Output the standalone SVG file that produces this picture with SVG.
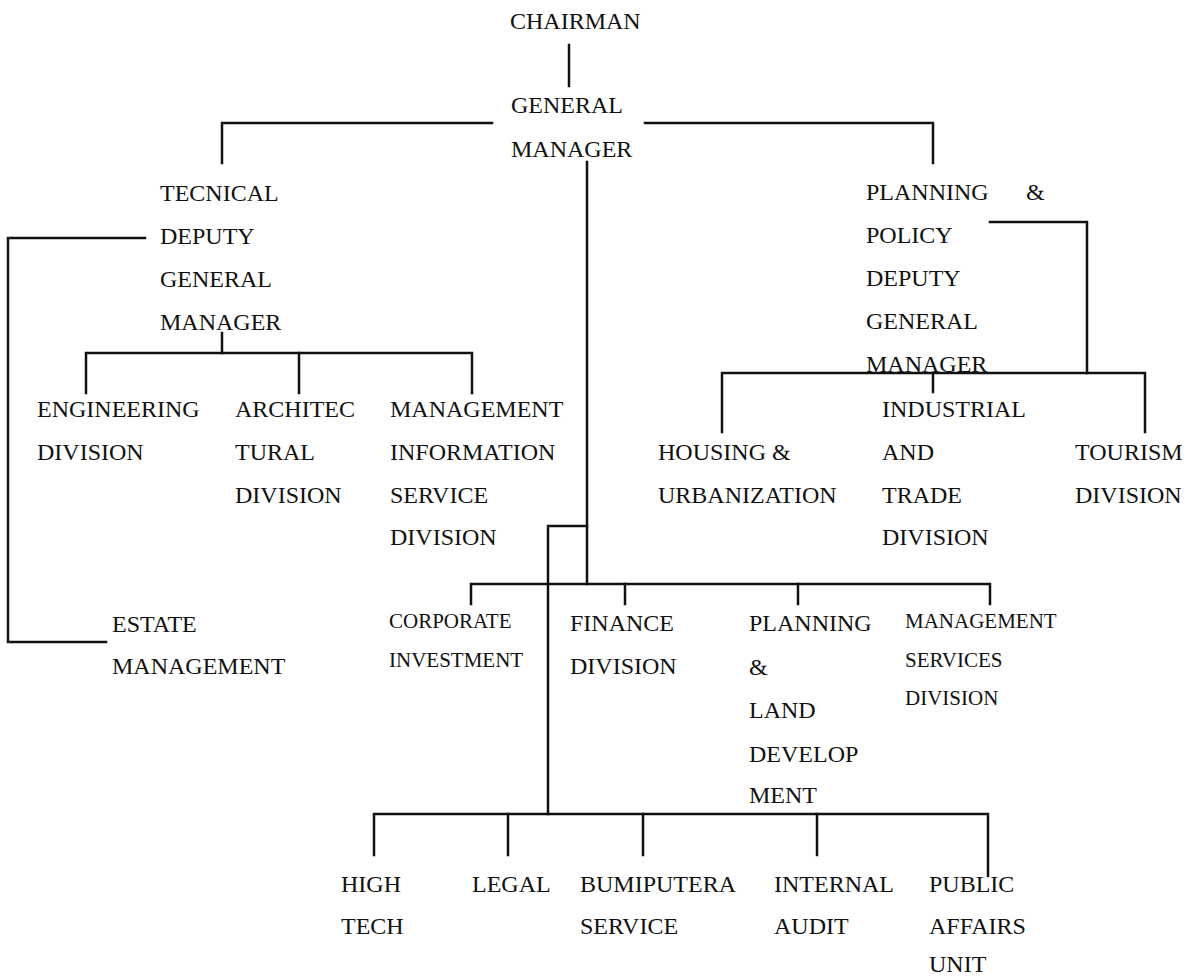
<svg xmlns="http://www.w3.org/2000/svg" width="1193" height="979" viewBox="0 0 1193 979">
<style>
  text { font-family: "Liberation Serif", "Times New Roman", serif; font-size: 24px; fill: #111; }
  text.sm { font-size: 21px; }
  .conn path { fill: none; stroke: #111; stroke-width: 2.5; stroke-linecap: square; }
</style>
<rect width="1193" height="979" fill="#fff"/>
<g class="conn" id="connectors">
  <path d="M569 45 V86"/>
  <path d="M492 123 H222 V163"/>
  <path d="M645 123 H933 V163"/>
  <path d="M587 162 V584"/>
  <path d="M145 238 H8 V642 H106"/>
  <path d="M222 333 V353"/>
  <path d="M86 393 V353 H472 V393"/>
  <path d="M299 353 V393"/>
  <path d="M990 222 H1087 V373"/>
  <path d="M722 432 V373 H1145 V432"/>
  <path d="M933 373 V392"/>
  <path d="M587 526 H548 V814"/>
  <path d="M471 604 V584 H990 V604"/>
  <path d="M625 584 V604"/>
  <path d="M798 584 V604"/>
  <path d="M374 855 V814 H988 V876"/>
  <path d="M508 814 V855"/>
  <path d="M643 814 V855"/>
  <path d="M817 814 V855"/>
</g>
<g id="chairman"><text x="510" y="29">CHAIRMAN</text></g>
<g id="general-manager"><text x="511" y="113">GENERAL</text><text x="511" y="157">MANAGER</text></g>
<g id="technical-dgm">
  <text x="160" y="201">TECNICAL</text><text x="160" y="244">DEPUTY</text>
  <text x="160" y="287">GENERAL</text><text x="160" y="330">MANAGER</text>
</g>
<g id="planning-policy-dgm">
  <text x="866" y="200">PLANNING</text><text x="1026" y="200">&amp;</text>
  <text x="866" y="243">POLICY</text><text x="866" y="286">DEPUTY</text>
  <text x="866" y="329">GENERAL</text><text x="866" y="372">MANAGER</text>
</g>
<g id="engineering"><text x="37" y="417">ENGINEERING</text><text x="37" y="460">DIVISION</text></g>
<g id="architectural"><text x="235" y="417">ARCHITEC</text><text x="235" y="460">TURAL</text><text x="235" y="503">DIVISION</text></g>
<g id="mis"><text x="390" y="417">MANAGEMENT</text><text x="390" y="460">INFORMATION</text><text x="390" y="503">SERVICE</text><text x="390" y="545">DIVISION</text></g>
<g id="housing"><text x="658" y="460">HOUSING &amp;</text><text x="658" y="503">URBANIZATION</text></g>
<g id="industrial"><text x="882" y="417">INDUSTRIAL</text><text x="882" y="460">AND</text><text x="882" y="503">TRADE</text><text x="882" y="545">DIVISION</text></g>
<g id="tourism"><text x="1075" y="460">TOURISM</text><text x="1075" y="503">DIVISION</text></g>
<g id="estate"><text x="112" y="632">ESTATE</text><text x="112" y="674">MANAGEMENT</text></g>
<g id="corporate"><text class="sm" x="389" y="628">CORPORATE</text><text class="sm" x="389" y="667">INVESTMENT</text></g>
<g id="finance"><text x="570" y="631">FINANCE</text><text x="570" y="674">DIVISION</text></g>
<g id="planning-land"><text x="749" y="631">PLANNING</text><text x="749" y="675">&amp;</text><text x="749" y="718">LAND</text><text x="749" y="762">DEVELOP</text><text x="749" y="803">MENT</text></g>
<g id="management-services"><text class="sm" x="905" y="628">MANAGEMENT</text><text class="sm" x="905" y="667">SERVICES</text><text class="sm" x="905" y="705">DIVISION</text></g>
<g id="high-tech"><text x="341" y="892">HIGH</text><text x="341" y="934">TECH</text></g>
<g id="legal"><text x="472" y="892">LEGAL</text></g>
<g id="bumiputera"><text x="580" y="892">BUMIPUTERA</text><text x="580" y="934">SERVICE</text></g>
<g id="internal-audit"><text x="774" y="892">INTERNAL</text><text x="774" y="934">AUDIT</text></g>
<g id="public-affairs"><text x="929" y="892">PUBLIC</text><text x="929" y="934">AFFAIRS</text><text x="929" y="972">UNIT</text></g>
</svg>
